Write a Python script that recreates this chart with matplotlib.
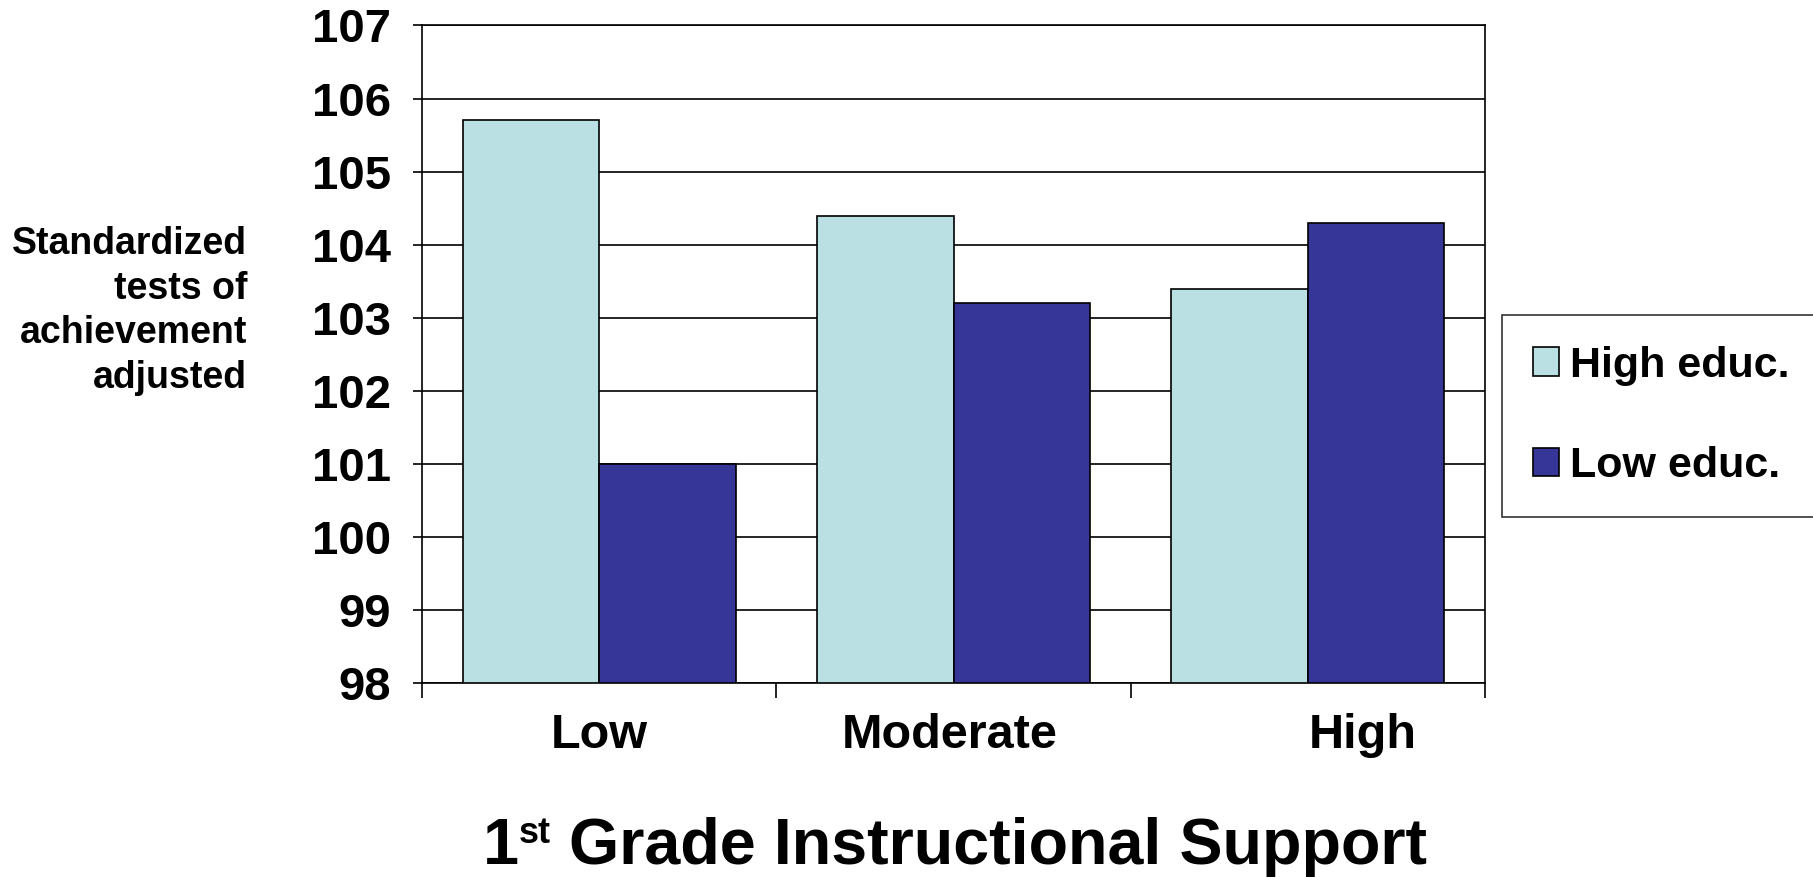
import matplotlib
matplotlib.use("Agg")
import matplotlib.pyplot as plt
import numpy as np

# ---- data ----
categories = ["Low", "Moderate", "High"]
series_names = ["High educ.", "Low educ."]
high_educ = [105.7, 104.4, 103.4]
low_educ = [101.0, 103.2, 104.3]
y_ticks = [98, 99, 100, 101, 102, 103, 104, 105, 106, 107]
y_label = "Standardized\ntests of\nachievement\nadjusted"
x_title_parts = ["1", "st", " Grade Instructional Support"]

# ---- style ----
plt.rcParams['font.family'] = ['Liberation Sans', 'DejaVu Sans']
plt.rcParams['font.weight'] = 'bold'

light = "#BBE0E3"
dark = "#363699"

W, H = 1813, 877
fig = plt.figure(figsize=(W / 100, H / 100), dpi=100)
ax = fig.add_axes([0.2328, 0.2208, 0.8191 - 0.2328, 0.971 - 0.2208])

x = np.arange(len(categories)) + 0.5
w = 0.385
ax.bar(x - w / 2, np.array(high_educ) - 98, w, bottom=98, color=light,
       edgecolor="black", linewidth=1.2, label=series_names[0], zorder=3)
ax.bar(x + w / 2, np.array(low_educ) - 98, w, bottom=98, color=dark,
       edgecolor="black", linewidth=1.2, label=series_names[1], zorder=3)

ax.set_xlim(0, len(categories))
ax.set_ylim(98, 107)
ax.set_yticks(y_ticks)
ax.set_yticklabels([str(t) for t in y_ticks], fontsize=34, fontweight='bold')
ax.tick_params(axis='y', direction='out', length=6.5, width=1.2, pad=16)
ax.yaxis.grid(True, color='black', linewidth=1.2, zorder=0)
ax.set_axisbelow(True)

ax.set_xticks(np.arange(len(categories) + 1))
ax.set_xticklabels([])
ax.tick_params(axis='x', direction='out', length=11, width=1.2)

for s in ax.spines.values():
    s.set_linewidth(1.2)
    s.set_color('black')

# category labels (slightly offset as in the original)
label_offsets = [0.0, -0.01, 0.154]
for xi, lab, off in zip(x, categories, label_offsets):
    ax.text(xi + off, -0.08, lab, transform=ax.get_xaxis_transform(),
            ha='center', va='center', fontsize=35, fontweight='bold')

# x title with a small raised "st"
fig.canvas.draw()
renderer = fig.canvas.get_renderer()
sizes = [46.5, 26, 46.5]
raise_px = [0, 21, 0]
baseline_px = 864
texts = []
for part, fs in zip(x_title_parts, sizes):
    t = fig.text(0, 0, part, fontsize=fs, fontweight='bold', ha='left',
                 va='baseline')
    texts.append(t)
widths = [t.get_window_extent(renderer).width for t in texts]
total = sum(widths)
cx = 955
start = cx - total / 2
for t, wd, r in zip(texts, widths, raise_px):
    t.set_position((start / W, 1 - (baseline_px - r) / H))
    start += wd

# y label
fig.text(247 / W, 1 - 311 / H, y_label, ha='right', va='center',
         fontsize=27, fontweight='bold', linespacing=1.3)

leg = fig.legend(loc='center left', bbox_to_anchor=(1502 / W, 1 - 416 / H),
                 fontsize=31, frameon=True, fancybox=False, edgecolor='black',
                 handlelength=0.6, handleheight=0.65, handletextpad=0.26,
                 labelspacing=1.4, borderpad=0.72, borderaxespad=0)
leg.get_frame().set_linewidth(1.2)
for t in leg.get_texts():
    t.set_fontweight('bold')

fig.savefig("out.png", dpi=100, facecolor='white')
